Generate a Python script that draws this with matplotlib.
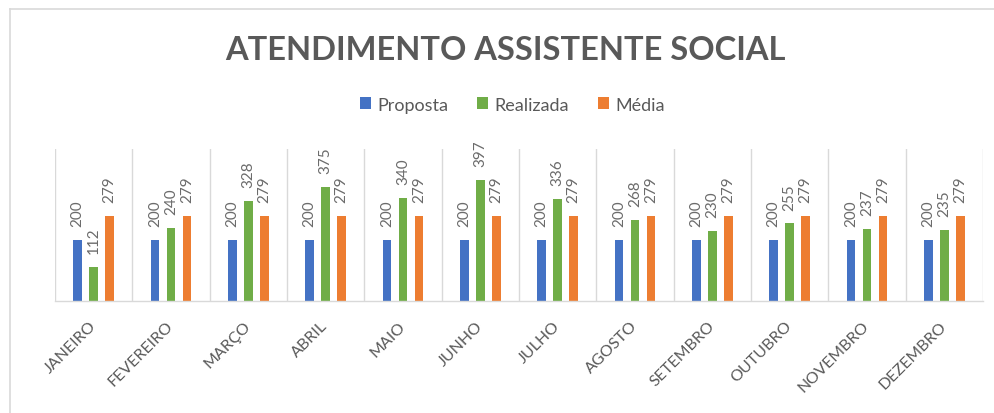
import matplotlib

matplotlib.use("Agg")
import matplotlib.pyplot as plt
from matplotlib.lines import Line2D
from matplotlib.patches import Patch
import numpy as np

plt.rcParams["font.family"] = ["Lato", "DejaVu Sans"]

months = ["JANEIRO", "FEVEREIRO", "MARÇO", "ABRIL", "MAIO", "JUNHO",
          "JULHO", "AGOSTO", "SETEMBRO", "OUTUBRO", "NOVEMBRO", "DEZEMBRO"]
proposta = [200] * 12
realizada = [112, 240, 328, 375, 340, 397, 336, 268, 230, 255, 237, 235]
media = [279] * 12

series = [("Proposta", proposta, "#4472C4"),
          ("Realizada", realizada, "#70AD47"),
          ("Média", media, "#ED7D31")]

text_col = "#595959"
label_col = "#6b6b6b"
grid_col = "#d9d9d9"

fig = plt.figure(figsize=(9.95, 4.14), dpi=100)
fig.patch.set_facecolor("white")
ax = fig.add_axes([55 / 995, 112 / 414, 928 / 995, 152 / 414])

x = np.arange(len(months))
width = 0.11
step = 0.207
for i, (name, vals, col) in enumerate(series):
    pos = x + (i - 1) * step
    ax.bar(pos, vals, width=width, color=col, label=name, zorder=2)
    for xi, v in zip(pos, vals):
        ax.annotate(str(v), xy=(xi, v), xytext=(0, 10), textcoords="offset points",
                    rotation=90, ha="center", va="bottom", fontsize=11,
                    color=label_col, annotation_clip=False)

# category separators
for b in np.arange(-0.5, len(months), 1.0):
    ax.axvline(b, color=grid_col, linewidth=1.0, zorder=1)

ax.set_xlim(-0.5, len(months) - 0.5)
ax.set_ylim(0, 500)
ax.set_yticks([])
for s in ["top", "left", "right"]:
    ax.spines[s].set_visible(False)
ax.spines["bottom"].set_color(grid_col)
ax.spines["bottom"].set_linewidth(1.0)

ax.set_xticks(x)
ax.set_xticklabels(months, rotation=45, ha="right", va="center",
                   rotation_mode="anchor", fontsize=11.5, color=text_col)
ax.tick_params(axis="x", length=0, pad=16)

fig.text(0.5075, 0.879, "ATENDIMENTO ASSISTENTE SOCIAL", ha="center", va="center",
         fontsize=23.5, fontweight="bold", color=text_col)

handles = [Patch(facecolor=c, edgecolor="none", label=n) for n, _, c in series]
fig.legend(handles=handles, loc="center", bbox_to_anchor=(0.515, 0.745), ncol=3,
           frameon=False, fontsize=13, handlelength=0.6, handleheight=0.6,
           handletextpad=0.35, columnspacing=1.6, labelcolor=text_col)

# chart area border
fig.add_artist(Line2D([10 / 995, 10 / 995], [0, 1 - 10 / 414], transform=fig.transFigure,
                      color=grid_col, linewidth=1.2))
fig.add_artist(Line2D([10 / 995, 1], [1 - 10 / 414, 1 - 10 / 414], transform=fig.transFigure,
                      color=grid_col, linewidth=1.2))

fig.savefig("out.png", dpi=100, facecolor="white")
